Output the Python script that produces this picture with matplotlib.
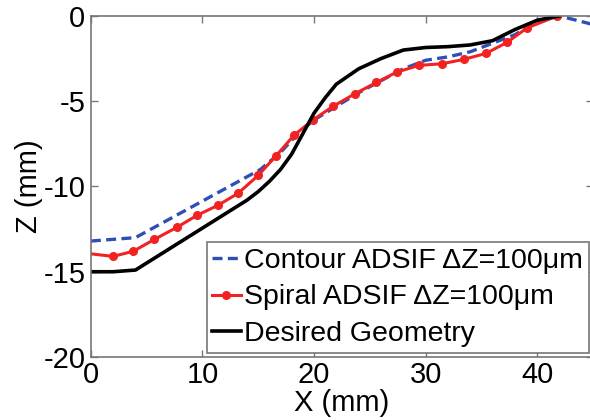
import numpy as np
import matplotlib
matplotlib.use("Agg")
import matplotlib.pyplot as plt

plt.rcParams['font.family'] = ['Liberation Sans', 'DejaVu Sans']
plt.rcParams['axes.unicode_minus'] = False

# contour ADSIF (blue dashed)
x_contour = [0, 4, 15.2, 17, 18.7, 20, 22, 24, 26, 28, 30, 32, 34, 36, 38, 40, 42, 45]
z_contour = [-13.2, -13.0, -9.0, -8.0, -6.8, -6.1, -5.3, -4.5, -3.8, -3.1, -2.6, -2.4, -2.1, -1.6, -1.1, -0.35, 0.0, -0.5]

# spiral ADSIF (red with dots)
x_spiral = [0, 2.0, 3.8, 5.7, 7.7, 9.5, 11.4, 13.2, 15.0, 16.6, 18.2, 19.9, 21.7,
            23.7, 25.6, 27.4, 29.4, 31.5, 33.4, 35.4, 37.3, 39.1, 41.8]
z_spiral = [-13.95, -14.1, -13.8, -13.1, -12.4, -11.7, -11.1, -10.4, -9.35, -8.2, -7.0, -6.1, -5.3,
            -4.55, -3.9, -3.3, -2.9, -2.8, -2.55, -2.2, -1.55, -0.7, 0.0]

# desired geometry (black)
x_desired = [0, 2, 4, 14, 15, 16, 17, 18, 19, 20, 21, 22, 24, 26, 28, 30, 32, 34, 36, 38, 40, 42]
z_desired = [-15.0, -15.0, -14.9, -10.8, -10.3, -9.7, -9.0, -8.1, -6.9, -5.7, -4.8, -4.0,
             -3.1, -2.5, -2.0, -1.85, -1.8, -1.7, -1.45, -0.8, -0.25, 0.0]

xticks = [0, 10, 20, 30, 40]
yticks = [0, -5, -10, -15, -20]

fig = plt.figure(figsize=(5.9, 4.2), dpi=100)
ax = fig.add_axes([0.154, 0.15, 0.851, 0.812])

ax.plot(x_contour, z_contour, '--', color='#2f4fb5', lw=2.4, dashes=(3, 1.6),
        label='Contour ADSIF \u0394Z=100\u03bcm')
ax.plot(x_spiral, z_spiral, '-', color='#f22222', lw=2.2, marker='o', ms=5.5,
        markevery=slice(1, None), label='Spiral ADSIF \u0394Z=100\u03bcm')
ax.plot(x_desired, z_desired, '-', color='black', lw=2.6, label='Desired Geometry')

ax.set_xlim(0, 45)
ax.set_ylim(-20, 0)
ax.set_xticks(xticks)
ax.set_yticks(yticks)
ax.tick_params(direction='in', length=5, width=1, color='#777777', top=True, right=True,
               labelsize=21, pad=3)
ax.tick_params(axis='y', pad=4)
for s in ax.spines.values():
    s.set_color('#777777')
    s.set_linewidth(1.2)

ax.set_xlabel('X (mm)', fontsize=21, labelpad=0)
ax.set_ylabel('Z (mm)', fontsize=21, labelpad=0)

leg = ax.legend(loc='lower right', fontsize=20.5, handlelength=1.0, handletextpad=0.12,
                borderpad=0.2, labelspacing=0.37, fancybox=False, framealpha=1,
                borderaxespad=0.15, numpoints=1)
leg.get_frame().set_edgecolor('#777777')
leg.get_frame().set_linewidth(1.2)

fig.savefig('out.png', dpi=100)
